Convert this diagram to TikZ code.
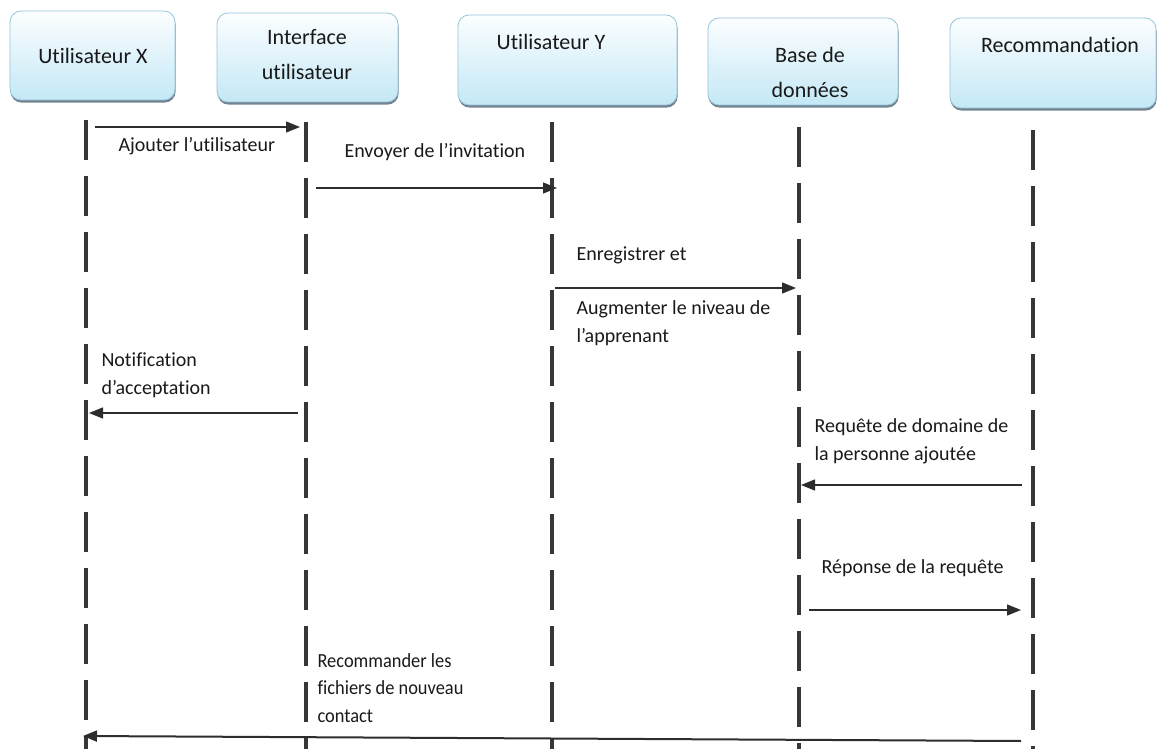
\documentclass[tikz,border=0pt]{standalone}
\usepackage{fontspec}
\setmainfont[Ligatures=NoCommon]{Carlito}
\newfontfamily\narrowfont[FakeStretch=0.92,Ligatures=NoCommon]{Carlito}
\usetikzlibrary{arrows.meta,calc,shadows}

\definecolor{boxtop}{RGB}{252,254,255}
\definecolor{boxbottom}{RGB}{196,232,246}
\definecolor{boxline}{RGB}{150,196,218}
\definecolor{boxshadow}{RGB}{70,90,110}
\definecolor{lifecol}{RGB}{55,55,55}
\definecolor{msgcol}{RGB}{45,45,45}

\tikzset{
  actor/.style={rounded corners=11pt, draw=boxline, line width=0.8pt,
    top color=boxtop, bottom color=boxbottom,
    drop shadow={shadow xshift=0.6pt, shadow yshift=-2.6pt, fill=boxshadow, opacity=0.75},
    inner sep=0pt},
  actortext/.style={font=\fontsize{22}{35}\selectfont, align=center, text=black!90},
  lifeline/.style={draw=lifecol, line width=3.8pt, dash pattern=on 40pt off 16pt},
  msg/.style={draw=msgcol, line width=1.3pt,
    -{Triangle[length=14pt,width=11pt]}},
  msgtext/.style={font=\fontsize{20}{28}\selectfont, align=left, anchor=west, text=black!90},
  msgnarrow/.style={font=\narrowfont\fontsize{20}{27.5}\selectfont, align=left, anchor=west, text=black!90}
}

\begin{document}
\begin{tikzpicture}[x=1pt,y=-1pt]
\useasboundingbox (0,0) rectangle (1157,749);

% participants
\node[actor, minimum width=165pt, minimum height=89pt] (ux) at (92.5,55.5) {};
\node[actor, minimum width=181pt, minimum height=89pt] (ui) at (307.5,57.5) {};
\node[actor, minimum width=219pt, minimum height=90pt] (uy) at (567.5,60) {};
\node[actor, minimum width=190pt, minimum height=87pt] (db) at (803,61.5) {};
\node[actor, minimum width=206pt, minimum height=90pt] (rec) at (1053,63) {};

\node[actortext] (uxt) at (93,56) {Utilisateur X};
\node[actortext] (uit) at (307,55) {Interface\\utilisateur};
\node[actortext] (uyt) at (551,42) {Utilisateur Y};
\node[actortext] (dbt) at (810,72) {Base de\\données};
\node[actortext] (rect) at (1060,45) {Recommandation};

% lifelines
\coordinate (LX) at (86,0);
\coordinate (LI) at (306,0);
\coordinate (LY) at (552,0);
\coordinate (LD) at (799,0);
\coordinate (LR) at (1033,0);
\draw[lifeline] ($(LX)+(0,120)$) -- ($(LX)+(0,749)$);
\draw[lifeline] ($(LI)+(0,122)$) -- ($(LI)+(0,749)$);
\draw[lifeline] ($(LY)+(0,122)$) -- ($(LY)+(0,749)$);
\draw[lifeline] ($(LD)+(0,127)$) -- ($(LD)+(0,749)$);
\draw[lifeline] ($(LR)+(0,130)$) -- ($(LR)+(0,749)$);

% messages
\draw[msg] ($(LX)+(9,127)$) -- ($(LI)+(-6,127)$);
\node[msgtext] (t1) at (115,146) {Ajouter l’utilisateur};

\draw[msg] ($(LI)+(10,188)$) -- ($(LY)+(5,188)$);
\node[msgtext] (t2) at (341,152) {Envoyer de l’invitation};

\draw[msg] ($(LY)+(3,288)$) -- ($(LD)+(-3,288)$);
\node[msgtext] (t3a) at (573,255) {Enregistrer et};
\node[msgtext] (t3b) at (573,323) {Augmenter le niveau de\\l’apprenant};

\draw[msg] ($(LI)+(-8,413)$) -- ($(LX)+(3,413)$);
\node[msgtext] (t4) at (98,375) {Notification\\d’acceptation};

\draw[msg] ($(LR)+(-11,485)$) -- ($(LD)+(2,485)$);
\node[msgtext] (t5) at (811,441) {Requête de domaine de\\la personne ajoutée};

\draw[msg] ($(LD)+(10,610)$) -- ($(LR)+(-12,610)$);
\node[msgtext] (t6) at (818,568) {Réponse de la requête};

\draw[msg, line width=2pt] ($(LR)+(-12,741)$) -- ($(LX)+(-3,736)$);
\node[msgnarrow] (t7) at (314,688) {Recommander les\\fichiers de nouveau\\contact};
\end{tikzpicture}
\end{document}
